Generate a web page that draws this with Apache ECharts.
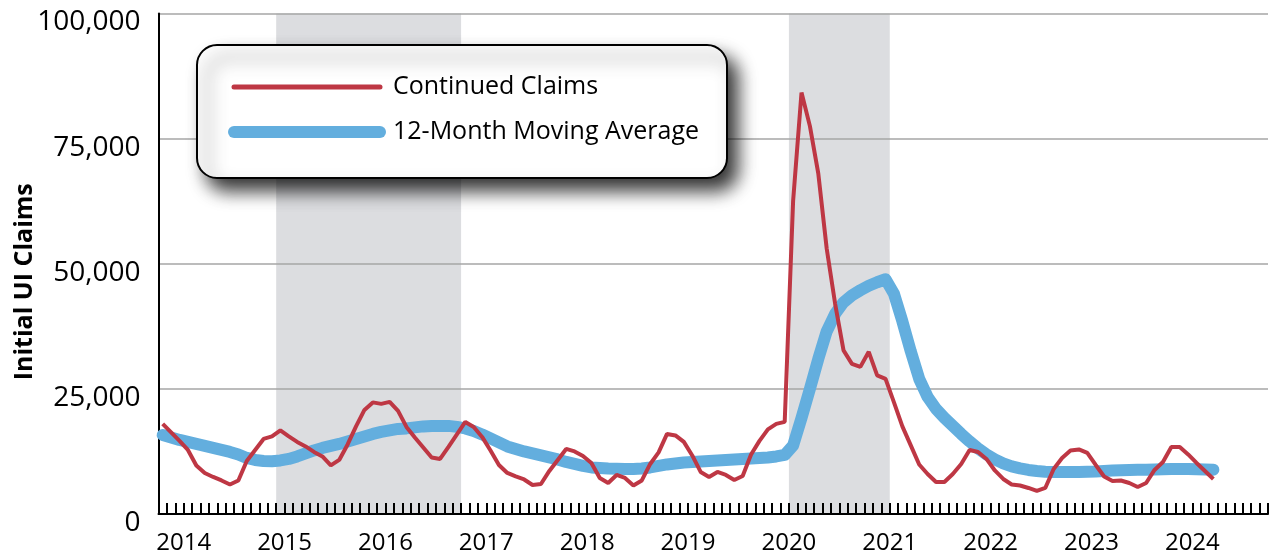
<!DOCTYPE html>
<html>
<head>
<meta charset="utf-8">
<script src="https://cdn.jsdelivr.net/npm/echarts@6/dist/echarts.min.js"></script>
<style>
    html, body { margin: 0; padding: 0; background: #fff; }
    #grafico { width: 1273px; height: 556px; }
</style>
</head>
<body>
<div id="grafico"></div>
<script>
// monthly series, first month Oct 2013
const PRIMER_ANIO = 2013;
const PRIMER_MES = 10;
const TOTAL_MESES = 132;

const continuedClaims = [
    18000, 16300, 14600, 12800, 9700, 8200, 7400, 6700, 5900, 6700,
    10600, 12800, 15000, 15500, 16700, 15500, 14400, 13500, 12400, 11500,
    9700, 10800, 13900, 17500, 20800, 22300, 22000, 22400, 20600, 17400,
    15300, 13300, 11300, 11000, 13400, 15900, 18400, 17400, 15400, 12700,
    9800, 8200, 7500, 6900, 5800, 6000, 8600, 10800, 13000, 12500,
    11600, 10200, 7200, 6200, 7800, 7200, 5700, 6700, 10000, 12300,
    16000, 15700, 14400, 11700, 8400, 7400, 8400, 7800, 6800, 7600,
    11900, 14600, 16900, 18000, 18400, 62500, 84200, 77500, 68000, 53000,
    42000, 32700, 30000, 29400, 32400, 27700, 27000, 22300, 17500, 13700,
    9900, 8000, 6400, 6400, 8000, 10000, 12800, 12400, 11000, 8700,
    7000, 5900, 5700, 5200, 4600, 5200, 9000, 11200, 12700, 12900,
    12200, 9800, 7500, 6600, 6700, 6200, 5400, 6200, 8800, 10400,
    13400, 13400, 11900, 10200, 8600, 7000
];

const promedioMovil = [
    15800, 15300, 14800, 14400, 14000, 13600, 13200, 12800, 12400, 11900,
    11200, 10800, 10600, 10560, 10700, 11000, 11500, 12100, 12700, 13200,
    13600, 14000, 14500, 15000, 15500, 16000, 16400, 16700, 17000, 17100,
    17300, 17500, 17600, 17600, 17600, 17400, 17100, 16600, 15900, 15100,
    14300, 13500, 13000, 12500, 12100, 11700, 11300, 10900, 10400, 10000,
    9600, 9300, 9200, 9100, 9050, 9000, 9000, 9100, 9300, 9600,
    9900, 10100, 10300, 10400, 10500, 10600, 10700, 10800, 10900, 11000,
    11100, 11200, 11300, 11500, 11800, 13700, 19200, 25000, 31000, 36500,
    40000, 42300, 43700, 44700, 45600, 46300, 46900, 44000, 38500, 32500,
    27000, 23400, 21000, 19200, 17600, 16000, 14500, 13100, 11900, 10900,
    10100, 9500, 9100, 8800, 8600, 8450, 8400, 8400, 8400, 8400,
    8450, 8500, 8600, 8700, 8750, 8800, 8850, 8850, 8900, 8950,
    9000, 9000, 9000, 8950, 8900, 8850
];

// shaded periods, [start month, end month]
const bandas = [["2014-12", "2016-10"], ["2020-01", "2021-01"]];

const marcasY = [0, 25000, 50000, 75000, 100000];

const meses = [];
for (let i = 0; i <= TOTAL_MESES; i++) {
    const m = PRIMER_MES - 1 + i;
    const anio = PRIMER_ANIO + Math.floor(m / 12);
    const mes = (m % 12) + 1;
    meses.push(anio + "-" + (mes < 10 ? "0" + mes : mes));
}
const categorias = meses.slice(0, TOTAL_MESES);

const areas = bandas.map(function(b) {
    return [{ xAxis: meses.indexOf(b[0]) }, { xAxis: meses.indexOf(b[1]) }];
});

const ROJO = "#be3744";
const AZUL = "#63aede";
const FUENTE = "Open Sans";

const grafico = echarts.init(document.getElementById("grafico"));
grafico.setOption({
    animation: false,
    grid: { left: 158.5, right: 5, top: 13.5, bottom: 42, containLabel: false, outerBoundsMode: "none" },
    legend: {
        data: [
            { name: "Continued Claims", lineStyle: { width: 5, cap: "round" } },
            { name: "12-Month Moving Average", lineStyle: { width: 12, cap: "round" } }
        ],
        orient: "vertical",
        left: 197,
        top: 45,
        padding: [27, 28, 31, 31],
        itemWidth: 146,
        itemHeight: 14,
        itemGap: 15,
        selectedMode: false,
        backgroundColor: "#fff",
        borderColor: "#000",
        borderWidth: 2,
        borderRadius: 20,
        shadowBlur: 18,
        shadowColor: "rgba(0,0,0,0.8)",
        shadowOffsetX: 10,
        shadowOffsetY: 12,
        itemStyle: { opacity: 0 },
        textStyle: { fontSize: 25, fontFamily: FUENTE, color: "#000", lineHeight: 30, padding: [0, 0, 0, 8] }
    },
    xAxis: [{
        type: "category",
        data: categorias,
        boundaryGap: true,
        axisLine: { lineStyle: { color: "#000", width: 2 } },
        axisTick: { show: true, inside: true, interval: 0, length: 11, lineStyle: { color: "#000", width: 2 } },
        axisLabel: {
            interval: function(index, valor) { return valor.slice(5) === "01"; },
            formatter: function(valor) { return valor.slice(0, 4); },
            fontSize: 24,
            fontFamily: FUENTE,
            color: "#000",
            margin: 17,
            padding: [0, 8.4, 0, 0]
        },
        splitLine: { show: false }
    }, {
        type: "value",
        min: 0,
        max: TOTAL_MESES,
        show: false
    }],
    yAxis: {
        type: "value",
        min: marcasY[0],
        max: marcasY[marcasY.length - 1],
        interval: marcasY[1] - marcasY[0],
        name: "Initial UI Claims",
        nameLocation: "middle",
        nameGap: 121,
        nameRotate: 90,
        nameMoveOverlap: false,
        nameTextStyle: { fontSize: 25, fontWeight: "bold", fontFamily: FUENTE, color: "#000", padding: [0, 36, 0, 0] },
        axisLine: { show: true, lineStyle: { color: "#000", width: 2 } },
        axisTick: { show: false },
        splitLine: { lineStyle: { color: "#a6a6a6", width: 1.5 } },
        axisLabel: {
            fontSize: 28,
            fontFamily: FUENTE,
            color: "#000",
            margin: 18,
            verticalAlign: "top",
            lineHeight: 18,
            formatter: function(v) { return v.toLocaleString("en-US"); }
        }
    },
    series: [{
        name: "bandas",
        type: "line",
        xAxisIndex: 1,
        data: [],
        silent: true,
        markArea: { silent: true, z: -1, itemStyle: { color: "#dcdde0" }, data: areas }
    }, {
        name: "12-Month Moving Average",
        type: "line",
        data: promedioMovil,
        symbol: "none",
        itemStyle: { color: AZUL },
        lineStyle: { color: AZUL, width: 12, cap: "round", join: "round" },
        z: 2
    }, {
        name: "Continued Claims",
        type: "line",
        data: continuedClaims,
        symbol: "none",
        itemStyle: { color: ROJO },
        lineStyle: { color: ROJO, width: 4 },
        z: 3
    }]
});
</script>
</body>
</html>
